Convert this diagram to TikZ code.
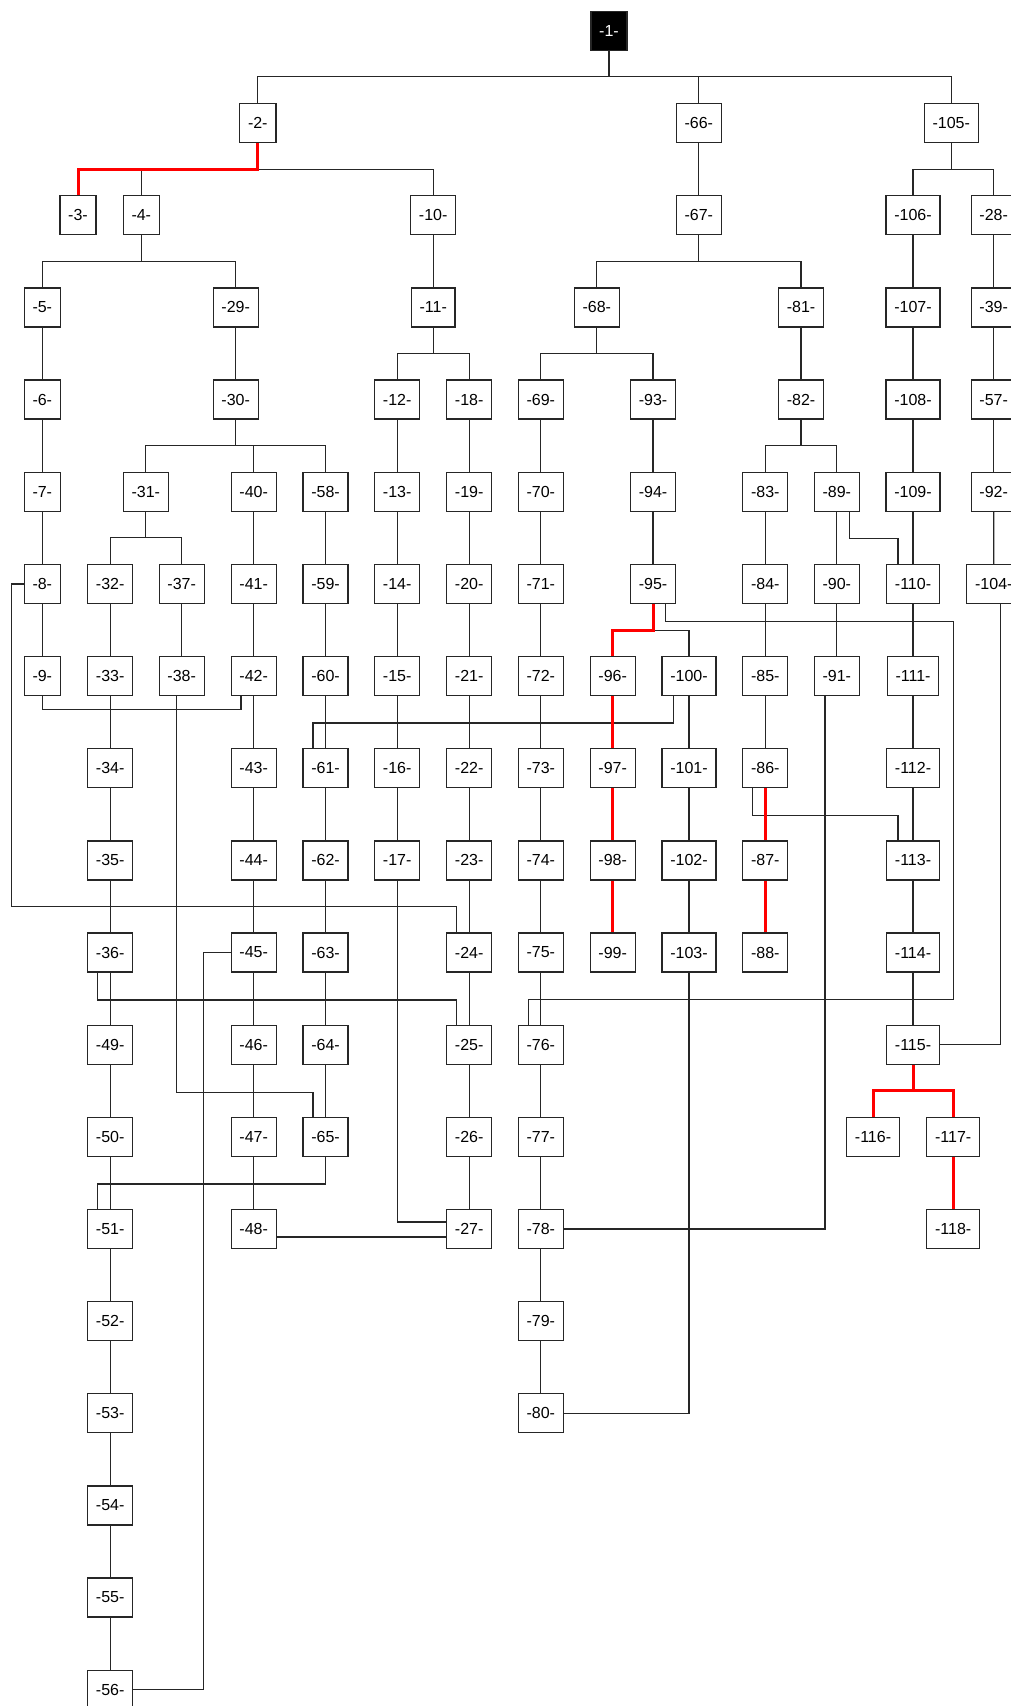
\documentclass[tikz,border=0pt]{standalone}
\usepackage{fontspec}
\setmainfont{Liberation Sans}
\pgfdeclarelayer{edges}
\pgfsetlayers{edges,main}
\tikzset{
  box/.style={draw=black!85, line width=1.3pt, fill=white, text=black,
    font=\fontsize{16}{16}\selectfont, inner xsep=8.3pt, inner ysep=0pt, minimum height=39pt},
  rootbox/.style={box, fill=black, text=white},
  link/.style={draw=black!85, line width=1.3pt},
  hot/.style={draw=red, line width=3pt},
}
\begin{document}
\begin{tikzpicture}[x=1pt,y=-1pt]
\useasboundingbox (0,0) rectangle (1011,1706);
% row 0
\node[rootbox] (n1) at (609,31) {-1-};
% row 1
\node[box] (n2) at (257.8,123.15) {-2-};
\node[box] (n66) at (698.8,123.15) {-66-};
\node[box] (n105) at (951.2,123.15) {-105-};
% row 2
\node[box] (n3) at (78,215.3) {-3-};
\node[box] (n4) at (141.3,215.3) {-4-};
\node[box] (n10) at (433.2,215.3) {-10-};
\node[box] (n67) at (698.8,215.3) {-67-};
\node[box] (n106) at (913,215.3) {-106-};
\node[box] (n28) at (993.7,215.3) {-28-};
% row 3
\node[box] (n5) at (42.3,307.45) {-5-};
\node[box] (n29) at (235.7,307.45) {-29-};
\node[box] (n11) at (433.2,307.45) {-11-};
\node[box] (n68) at (596.8,307.45) {-68-};
\node[box] (n81) at (801,307.45) {-81-};
\node[box] (n107) at (913,307.45) {-107-};
\node[box] (n39) at (993.7,307.45) {-39-};
% row 4
\node[box] (n6) at (42.3,399.6) {-6-};
\node[box] (n30) at (235.7,399.6) {-30-};
\node[box] (n12) at (397.2,399.6) {-12-};
\node[box] (n18) at (469.2,399.6) {-18-};
\node[box] (n69) at (540.8,399.6) {-69-};
\node[box] (n93) at (653,399.6) {-93-};
\node[box] (n82) at (801,399.6) {-82-};
\node[box] (n108) at (913,399.6) {-108-};
\node[box] (n57) at (993.7,399.6) {-57-};
% row 5
\node[box] (n7) at (42.3,491.75) {-7-};
\node[box] (n31) at (145.8,491.75) {-31-};
\node[box] (n40) at (253.7,491.75) {-40-};
\node[box] (n58) at (325.5,491.75) {-58-};
\node[box] (n13) at (397.2,491.75) {-13-};
\node[box] (n19) at (469.2,491.75) {-19-};
\node[box] (n70) at (540.8,491.75) {-70-};
\node[box] (n94) at (653,491.75) {-94-};
\node[box] (n83) at (765.3,491.75) {-83-};
\node[box] (n89) at (836.8,491.75) {-89-};
\node[box] (n109) at (913,491.75) {-109-};
\node[box] (n92) at (993.7,491.75) {-92-};
% row 6
\node[box] (n8) at (42.3,583.9) {-8-};
\node[box] (n32) at (110.2,583.9) {-32-};
\node[box] (n37) at (181.7,583.9) {-37-};
\node[box] (n41) at (253.7,583.9) {-41-};
\node[box] (n59) at (325.5,583.9) {-59-};
\node[box] (n14) at (397.2,583.9) {-14-};
\node[box] (n20) at (469.2,583.9) {-20-};
\node[box] (n71) at (540.8,583.9) {-71-};
\node[box] (n95) at (653,583.9) {-95-};
\node[box] (n84) at (765.3,583.9) {-84-};
\node[box] (n90) at (836.8,583.9) {-90-};
\node[box] (n110) at (913,583.9) {-110-};
\node[box] (n104) at (993.8,583.9) {-104-};
% row 7
\node[box] (n9) at (42.3,676.05) {-9-};
\node[box] (n33) at (110.2,676.05) {-33-};
\node[box] (n38) at (181.7,676.05) {-38-};
\node[box] (n42) at (253.7,676.05) {-42-};
\node[box] (n60) at (325.5,676.05) {-60-};
\node[box] (n15) at (397.2,676.05) {-15-};
\node[box] (n21) at (469.2,676.05) {-21-};
\node[box] (n72) at (540.8,676.05) {-72-};
\node[box] (n96) at (612.7,676.05) {-96-};
\node[box] (n100) at (689,676.05) {-100-};
\node[box] (n85) at (765.3,676.05) {-85-};
\node[box] (n91) at (836.8,676.05) {-91-};
\node[box] (n111) at (913,676.05) {-111-};
% row 8
\node[box] (n34) at (110.2,768.2) {-34-};
\node[box] (n43) at (253.7,768.2) {-43-};
\node[box] (n61) at (325.5,768.2) {-61-};
\node[box] (n16) at (397.2,768.2) {-16-};
\node[box] (n22) at (469.2,768.2) {-22-};
\node[box] (n73) at (540.8,768.2) {-73-};
\node[box] (n97) at (612.7,768.2) {-97-};
\node[box] (n101) at (689,768.2) {-101-};
\node[box] (n86) at (765.3,768.2) {-86-};
\node[box] (n112) at (913,768.2) {-112-};
% row 9
\node[box] (n35) at (110.2,860.35) {-35-};
\node[box] (n44) at (253.7,860.35) {-44-};
\node[box] (n62) at (325.5,860.35) {-62-};
\node[box] (n17) at (397.2,860.35) {-17-};
\node[box] (n23) at (469.2,860.35) {-23-};
\node[box] (n74) at (540.8,860.35) {-74-};
\node[box] (n98) at (612.7,860.35) {-98-};
\node[box] (n102) at (689,860.35) {-102-};
\node[box] (n87) at (765.3,860.35) {-87-};
\node[box] (n113) at (913,860.35) {-113-};
% row 10
\node[box] (n36) at (110.2,952.5) {-36-};
\node[box] (n45) at (253.7,952.5) {-45-};
\node[box] (n63) at (325.5,952.5) {-63-};
\node[box] (n24) at (469.2,952.5) {-24-};
\node[box] (n75) at (540.8,952.5) {-75-};
\node[box] (n99) at (612.7,952.5) {-99-};
\node[box] (n103) at (689,952.5) {-103-};
\node[box] (n88) at (765.3,952.5) {-88-};
\node[box] (n114) at (913,952.5) {-114-};
% row 11
\node[box] (n49) at (110.2,1044.65) {-49-};
\node[box] (n46) at (253.7,1044.65) {-46-};
\node[box] (n64) at (325.5,1044.65) {-64-};
\node[box] (n25) at (469.2,1044.65) {-25-};
\node[box] (n76) at (540.8,1044.65) {-76-};
\node[box] (n115) at (913,1044.65) {-115-};
% row 12
\node[box] (n50) at (110.2,1136.8) {-50-};
\node[box] (n47) at (253.7,1136.8) {-47-};
\node[box] (n65) at (325.5,1136.8) {-65-};
\node[box] (n26) at (469.2,1136.8) {-26-};
\node[box] (n77) at (540.8,1136.8) {-77-};
\node[box] (n116) at (873,1136.8) {-116-};
\node[box] (n117) at (953.2,1136.8) {-117-};
% row 13
\node[box] (n51) at (110.2,1228.95) {-51-};
\node[box] (n48) at (253.7,1228.95) {-48-};
\node[box] (n27) at (469.2,1228.95) {-27-};
\node[box] (n78) at (540.8,1228.95) {-78-};
\node[box] (n118) at (953.2,1228.95) {-118-};
% rows 14-18
\node[box] (n52) at (110.2,1321.1) {-52-};
\node[box] (n79) at (540.8,1321.1) {-79-};
\node[box] (n53) at (110.2,1413.25) {-53-};
\node[box] (n80) at (540.8,1413.25) {-80-};
\node[box] (n54) at (110.2,1505.4) {-54-};
\node[box] (n55) at (110.2,1597.55) {-55-};
\node[box] (n56) at (110.2,1689.7) {-56-};
% junctions
\coordinate (j1) at (609,76.7);
\coordinate (j2) at (257.8,169.3);
\coordinate (j105) at (951.2,169.3);
\coordinate (j4) at (141.3,261.7);
\coordinate (j67) at (698.8,261.7);
\coordinate (j11) at (433.2,353.3);
\coordinate (j68) at (596.8,353.3);
\coordinate (j30) at (235.7,445.3);
\coordinate (j82) at (801,445.3);
\coordinate (j31) at (145.8,537.7);
\coordinate (j115) at (913,1090.7);
\coordinate (r76) at (953.3,999.3);
\begin{pgfonlayer}{edges}
\fill[white] (0,0) rectangle (1011,1706);
% buses
\draw[link] (n1.south) -- (j1) -| (n2.north);
\draw[link] (j1) -| (n66.north);
\draw[link] (j1) -| (n105.north);
\draw[link] (j2) -| (n4.north);
\draw[link] (j2) -| (n10.north);
\draw[link] (n105.south) -- (j105) -| (n106.north);
\draw[link] (j105) -| (n28.north);
\draw[link] (n4.south) -- (j4) -| (n5.north);
\draw[link] (j4) -| (n29.north);
\draw[link] (n67.south) -- (j67) -| (n68.north);
\draw[link] (j67) -| (n81.north);
\draw[link] (n11.south) -- (j11) -| (n12.north);
\draw[link] (j11) -| (n18.north);
\draw[link] (n68.south) -- (j68) -| (n69.north);
\draw[link] (j68) -| (n93.north);
\draw[link] (n30.south) -- (j30) -| (n31.north);
\draw[link] (j30) -| (n40.north);
\draw[link] (j30) -| (n58.north);
\draw[link] (n82.south) -- (j82) -| (n83.north);
\draw[link] (j82) -| (n89.north);
\draw[link] (n31.south) -- (j31) -| (n32.north);
\draw[link] (j31) -| (n37.north);
% straight chains
\foreach \a/\b in {66/67,10/11,29/30,81/82,
  5/6,6/7,7/8,8/9,
  32/33,33/34,34/35,35/36,36/49,49/50,50/51,51/52,52/53,53/54,54/55,55/56,
  37/38,
  40/41,41/42,42/43,43/44,44/45,45/46,46/47,47/48,
  58/59,59/60,60/61,61/62,62/63,63/64,64/65,
  12/13,13/14,14/15,15/16,16/17,
  18/19,19/20,20/21,21/22,22/23,23/24,24/25,25/26,26/27,
  69/70,70/71,71/72,72/73,73/74,74/75,75/76,76/77,77/78,78/79,79/80,
  93/94,94/95,
  100/101,101/102,102/103,
  83/84,84/85,85/86,
  89/90,90/91,
  106/107,107/108,108/109,109/110,110/111,111/112,112/113,113/114,114/115,
  28/39,39/57,57/92,92/104}
  \draw[link] (n\a.south) -- (n\b.north);
% cross links
\draw[link] (n8.west) -- ++(-12.3,0) -- ++(0,322.8) -| ([xshift=-12.5pt]n24.north);
\draw[link] (n9.south) -- ++(0,13.5) -| ([xshift=-12.7pt]n42.south);
\draw[link] ([xshift=-5pt]n38.south) -- ++(0,396.1) -| ([xshift=-12.5pt]n65.north);
\draw[link] ([xshift=-15.7pt]n100.south) -- ++(0,26.75) -| ([xshift=-12.5pt]n61.north);
\draw[link] (n95.south) -- ++(0,26.6) -| (n100.north);
\draw[link] ([xshift=12.7pt]n95.south) -- ++(0,17.6) -| (r76) -| ([xshift=-12.3pt]n76.north);
\draw[link] ([xshift=12.5pt]n89.south) -- ++(0,26.45) -| ([xshift=-15pt]n110.north);
\draw[link] ([xshift=-11.8pt]n91.south) |- (n78.east);
\draw[link] ([xshift=7pt]n104.south) |- (n115.east);
\draw[link] ([xshift=-13pt]n86.south) -- ++(0,27.3) -| ([xshift=-15pt]n113.north);
\draw[link] (n103.south) |- (n80.east);
\draw[link] (n45.west) -- ++(-27,0) |- (n56.east);
\draw[link] ([xshift=-12.7pt]n36.south) -- ++(0,27.3) -| ([xshift=-12.5pt]n25.north);
\draw[link] (n65.south) -- ++(0,27) -| ([xshift=-12.7pt]n51.north);
\draw[link] ([yshift=-8pt]n48.east) -- ([yshift=-8pt]n27.west);
\draw[link] (n17.south) |- ([yshift=7pt]n27.west);
% red paths
\draw[hot] (n2.south) -- (j2) -| (n3.north);
\draw[hot] (n95.south) -- ++(0,26.6) -| (n96.north);
\draw[hot] (n115.south) -- (j115) -| (n116.north);
\draw[hot] (j115) -| (n117.north);
\foreach \a/\b in {96/97,97/98,98/99,86/87,87/88,117/118}
  \draw[hot] (n\a.south) -- (n\b.north);
\end{pgfonlayer}
\end{tikzpicture}
\end{document}
